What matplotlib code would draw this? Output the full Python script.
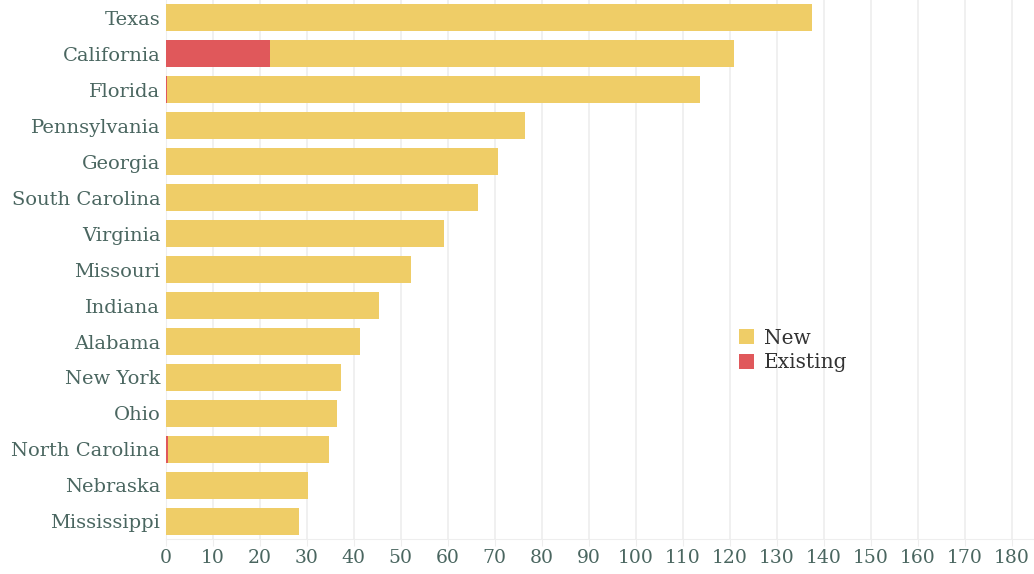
import matplotlib.pyplot as plt
import numpy as np

staaten = ["Texas", "California", "Florida", "Pennsylvania", "Georgia",
           "South Carolina", "Virginia", "Missouri", "Indiana", "Alabama",
           "New York", "Ohio", "North Carolina", "Nebraska", "Mississippi"]
existing = [0, 22.2, 0.3, 0, 0, 0, 0, 0, 0, 0, 0, 0, 0.4, 0, 0]
new = [137.5, 98.7, 113.4, 76.5, 70.7, 66.5, 59.2, 52.2, 45.4, 41.3,
       37.3, 36.4, 34.3, 30.2, 28.4]

gelb = "#efcd67"
rot = "#e0585b"
textfarbe = "#4a6660"

plt.rcParams['font.family'] = ['DejaVu Serif']

fig = plt.figure(figsize=(10.34, 5.74), dpi=100)
ax = fig.add_axes([0.1603, 0.0605, 1 - 0.1603, 1 - 0.0605])

y = np.arange(len(staaten))
ax.barh(y, existing, height=0.75, color=rot, label="Existing", zorder=3)
ax.barh(y, new, left=existing, height=0.75, color=gelb, label="New", zorder=3)

ax.set_ylim(len(staaten) - 0.5, -0.5)
ax.set_xlim(0, 184.7)
ax.set_yticks(y)
ax.set_yticklabels(staaten, fontsize=14, color=textfarbe)
ax.set_xticks(np.arange(0, 181, 10))
ax.set_xticklabels([str(v) for v in range(0, 181, 10)], fontsize=13.5, color=textfarbe)

ax.grid(axis='x', color="#eeeeee", linewidth=1.2, zorder=0)
for s in ["top", "right"]:
    ax.spines[s].set_visible(False)
ax.spines["left"].set_color("#eeeeee")
ax.spines["bottom"].set_color("#eeeeee")
ax.tick_params(axis='y', length=0, pad=4)
ax.tick_params(axis='x', length=5, color="#eeeeee", pad=2)

handles, labels = ax.get_legend_handles_labels()
leg = ax.legend(handles[::-1], labels[::-1], loc="upper left",
                bbox_to_anchor=(0.639, 0.424), frameon=False, fontsize=14.5,
                handlelength=0.75, handleheight=0.75, handletextpad=0.5,
                labelspacing=0.28)
for t in leg.get_texts():
    t.set_color("#333333")

fig.savefig("out.png", dpi=100)
